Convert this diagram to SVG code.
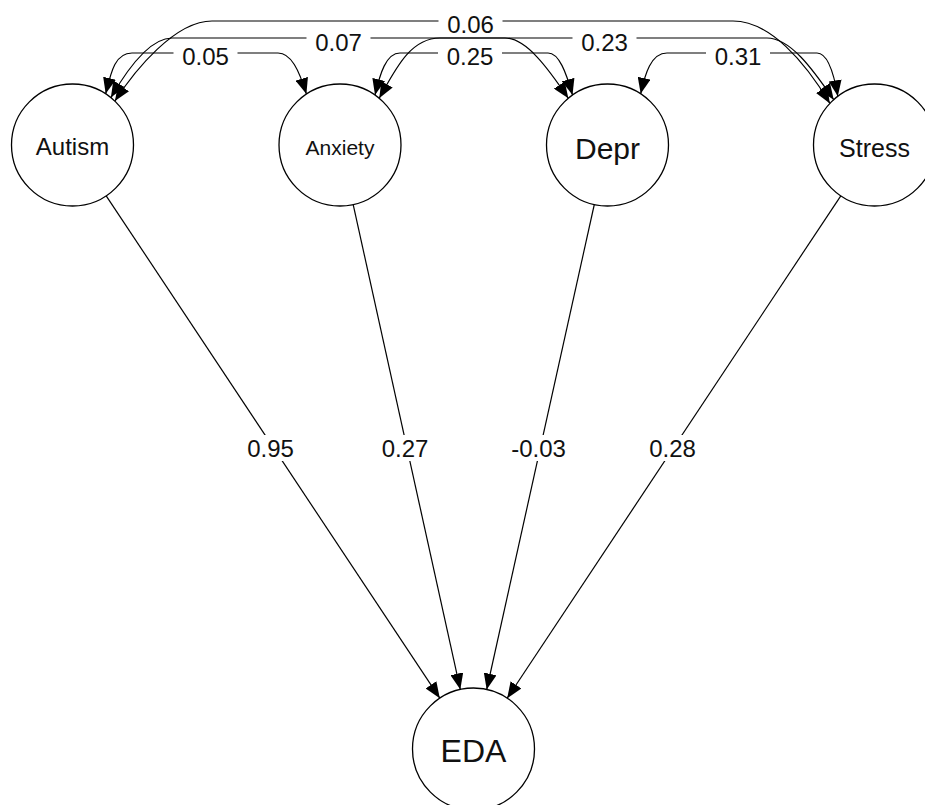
<svg xmlns="http://www.w3.org/2000/svg" width="925" height="805" viewBox="0 0 925 805">
<style>
.edge{fill:none;stroke:#000;stroke-width:1.2;marker-end:url(#arr)}
.cov{marker-start:url(#arr)}
.node circle{fill:#fff;stroke:#000;stroke-width:1.3}
text{font-family:"Liberation Sans",Arial,sans-serif;fill:#111;text-anchor:middle}
.lbl rect{fill:#fff;stroke:none}
.lbl text{font-size:24px}
</style>
<defs>
<marker id="arr" viewBox="0 0 16 13" refX="16" refY="6.5" markerWidth="16" markerHeight="13" markerUnits="userSpaceOnUse" orient="auto-start-reverse">
<path d="M0,0 L16,6.5 L0,13 z" fill="#000"/>
</marker>
</defs>
<rect width="925" height="805" fill="#fff"/>
<g id="connectors">
<path class="edge cov" d="M114.9,101.1 C135,70 175,21 212,21 L733,21 C770,21 805,62 829.9,103.4"/>
<path class="edge cov" d="M110.9,97.6 C128,68 150,38 172,38 L505,38 C526,38 548,68 568.3,98.3"/>
<path class="edge cov" d="M105.7,93.8 C111,72 115,53 132,53 L278,53 C291,53 299,70 306.4,94.1"/>
<path class="edge cov" d="M375,95 C380,74 386,53 400,53 L548,53 C559,53 566,72 572.5,95"/>
<path class="edge cov" d="M379.2,98.3 C395,70 410,38 440,38 L767,38 C790,38 812,68 833.7,99.7"/>
<path class="edge cov" d="M640.7,93.8 C645,74 651,53 667,53 L817,53 C828,53 834,74 837.8,96.3"/>
<path class="edge" d="M106.2,195.8 L439.8,698.2"/>
<path class="edge" d="M353.2,204.6 L460.3,689.4"/>
<path class="edge" d="M594.3,204.5 L486.7,689.5"/>
<path class="edge" d="M840.8,195.8 L507.2,698.2"/>
<g class="lbl">
<rect x="438.5" y="13.4" width="64" height="22"/><text x="470.5" y="33">0.06</text>
<rect x="306.5" y="30.9" width="64" height="22"/><text x="338.5" y="50.5">0.07</text>
<rect x="173.5" y="45.4" width="64" height="22"/><text x="205.5" y="65">0.05</text>
<rect x="438" y="45.4" width="64" height="22"/><text x="470" y="65">0.25</text>
<rect x="572.5" y="30.9" width="64" height="22"/><text x="604.5" y="50.5">0.23</text>
<rect x="706" y="45.4" width="64" height="22"/><text x="738" y="65">0.31</text>
<rect x="238.5" y="435" width="64" height="26"/><text x="270.5" y="457">0.95</text>
<rect x="373" y="435" width="64" height="26"/><text x="405" y="457">0.27</text>
<rect x="502.5" y="435" width="72" height="26"/><text x="538.5" y="457">-0.03</text>
<rect x="640.5" y="435" width="64" height="26"/><text x="672.5" y="457">0.28</text>
</g>
</g>
<g id="node-autism" class="node"><circle cx="72.5" cy="145" r="61"/><text x="72.5" y="155" font-size="24">Autism</text></g>
<g id="node-anxiety" class="node"><circle cx="340" cy="145" r="61"/><text x="340" y="154.5" font-size="21">Anxiety</text></g>
<g id="node-depr" class="node"><circle cx="607.5" cy="145" r="61"/><text x="607.5" y="159" font-size="30">Depr</text></g>
<g id="node-stress" class="node"><circle cx="874.5" cy="145" r="61"/><text x="874.5" y="157" font-size="25">Stress</text></g>
<g id="node-eda" class="node"><circle cx="473.5" cy="749" r="61"/><text x="473.5" y="762" font-size="32">EDA</text></g>
</svg>
